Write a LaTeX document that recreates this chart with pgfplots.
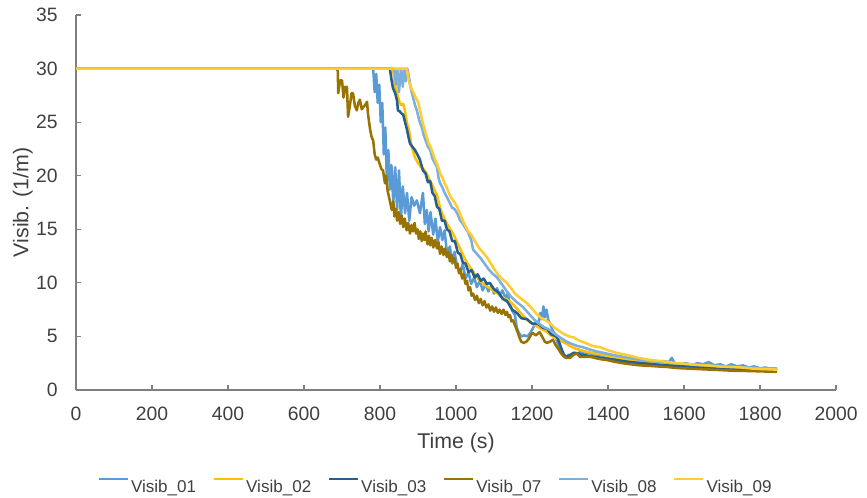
\documentclass[border=0pt]{standalone}
\usepackage{pgfplots}
\usepackage{pgfplotstable}
\pgfplotsset{compat=1.18}
\usepackage{fontspec}
\setmainfont{Liberation Sans}
\definecolor{cA}{HTML}{5B9BD5}
\definecolor{cB}{HTML}{FFC000}
\definecolor{cC}{HTML}{255E91}
\definecolor{cD}{HTML}{997300}
\definecolor{cE}{HTML}{7CAFDD}
\definecolor{cF}{HTML}{FFCD33}
\definecolor{axgray}{HTML}{7F7F7F}
\definecolor{txt}{HTML}{404040}

\pgfplotstableread{
t v
0 30
782 30
786 27.8
790 29.5
794 26.8
798 28.5
802 25.0
806 26.8
810 22.0
814 24.5
818 19.5
822 22.4
826 18.7
830 21.0
835 17.5
840 20.8
845 16.8
850 20.5
855 16.0
860 19.0
866 16.5
871 18.4
877 15.8
883 18.0
890 17.2
897 17.7
905 16.5
913 18.4
918 15.5
923 16.8
928 14.8
933 16.6
940 14.5
946 16.0
952 13.8
958 15.2
964 14.0
970 14.9
976 12.8
984 13.4
990 11.8
996 12.9
1003 11.5
1010 10.9
1018 11.8
1025 10.4
1033 11.0
1040 9.9
1048 10.5
1055 9.6
1063 10.2
1070 9.3
1078 9.9
1085 9.2
1093 9.7
1100 9.0
1108 9.5
1115 8.8
1122 9.3
1130 8.6
1136 9.0
1142 8.0
1148 7.4
1155 7.0
1160 5.8
1166 5.3
1172 5.0
1180 5.1
1188 5.0
1195 5.3
1203 5.8
1210 6.3
1216 6.0
1222 7.2
1226 6.6
1230 7.8
1234 6.8
1238 7.5
1243 6.5
1248 6.2
1254 5.6
1260 5.2
1266 4.5
1272 3.9
1278 3.4
1284 3.1
1290 3.0
1296 3.3
1302 3.2
1310 3.5
1320 3.4
1330 3.6
1340 3.3
1350 3.5
1360 3.2
1370 3.3
1380 3.1
1395 3.0
1410 2.9
1425 3.0
1440 2.8
1455 2.9
1470 2.7
1485 2.8
1500 2.6
1515 2.8
1530 2.5
1545 2.7
1560 2.6
1568 3.0
1575 2.5
1590 2.4
1605 2.5
1620 2.3
1635 2.5
1650 2.4
1665 2.6
1680 2.3
1695 2.4
1710 2.2
1725 2.4
1740 2.2
1755 2.3
1770 2.1
1785 2.2
1800 2.0
1815 2.1
1830 1.9
1845 2.0
}\tabA

\pgfplotstableread{
t v
0 30
834 30
839 28.5
845 27.7
850 27.0
855 26.6
861 26.7
866 26.0
871 24.9
876 24.3
882 23.0
887 22.3
892 21.7
900 21.2
908 20.8
915 20.6
923 20.2
930 19.6
937 19.2
944 18.6
950 18.2
956 17.3
962 16.6
968 16.1
975 15.6
983 15.1
992 14.6
1000 14.0
1008 13.4
1016 12.8
1024 12.2
1032 11.7
1040 11.3
1050 10.8
1060 10.3
1070 10.0
1080 9.7
1090 9.5
1100 9.2
1110 9.0
1120 8.7
1130 8.5
1140 8.3
1150 8.0
1160 7.6
1170 7.2
1180 6.8
1190 6.5
1200 6.2
1210 6.0
1220 5.8
1230 5.6
1240 5.4
1250 5.1
1260 4.9
1270 4.7
1280 4.5
1292 4.3
1305 4.0
1320 3.8
1340 3.6
1360 3.45
1380 3.35
1400 3.2
1430 3.0
1460 2.8
1490 2.65
1520 2.5
1550 2.4
1580 2.3
1610 2.2
1640 2.15
1670 2.1
1700 2.05
1730 2.0
1760 1.95
1790 1.9
1820 1.85
1845 1.8
}\tabB

\pgfplotstableread{
t v
0 30
826 30
830 29.0
834 28.2
840 27.7
845 27.0
847 26.1
852 26.0
857 25.8
861 25.7
866 25.0
871 24.3
875 23.6
879 23.0
885 22.7
892 22.4
898 22.0
905 21.5
913 20.5
920 20.2
926 19.4
932 19.5
938 18.4
944 18.1
950 17.1
956 16.9
963 15.8
970 15.8
976 15.0
983 14.8
990 13.9
997 13.9
1005 12.8
1011 12.7
1018 11.9
1025 11.8
1033 11.0
1041 11.2
1049 10.5
1057 10.8
1065 10.2
1073 10.4
1081 9.9
1089 10.0
1100 9.4
1112 9.1
1123 8.5
1134 8.3
1148 7.5
1160 7.2
1172 6.7
1187 6.6
1200 6.2
1215 6.2
1229 5.8
1240 5.7
1250 5.2
1258 5.1
1266 4.95
1272 4.4
1278 3.8
1284 3.3
1290 3.1
1298 3.2
1306 3.4
1318 3.45
1330 3.3
1345 3.2
1360 3.1
1380 3.0
1400 2.9
1430 2.75
1460 2.6
1490 2.5
1520 2.4
1550 2.3
1580 2.25
1610 2.2
1640 2.15
1670 2.1
1700 2.05
1730 2.0
1760 1.95
1790 1.9
1820 1.85
1845 1.85
}\tabC

\pgfplotstableread{
t v
0 30
684 30
689 29.8
690 27.7
695 28.9
700 28.9
704 27.3
708 28.3
713 28.3
716 25.5
721 26.6
725 27.7
729 27.7
734 26.5
739 26.1
743 26.8
747 27.1
752 26.2
756 26.4
761 26.6
766 26.9
768 25.9
772 24.8
774 24.3
778 23.6
782 23.3
786 22.0
790 21.5
794 21.7
800 21.0
804 20.6
808 20.5
813 19.3
816 20.0
820 18.6
825 17.8
831 16.8
835 17.6
838 16.2
842 16.9
845 15.8
849 16.6
853 15.5
857 16.3
861 15.2
865 16.0
870 14.9
874 15.6
879 14.6
883 15.4
887 14.8
891 15.6
895 14.6
899 15.0
902 14.1
906 14.8
910 13.9
913 14.6
917 14.0
920 14.8
925 13.6
929 14.4
932 13.5
936 14.2
940 13.3
945 14.0
950 13.2
954 13.8
958 12.7
962 13.4
967 12.6
971 13.2
976 12.4
980 12.9
984 12.0
988 12.6
992 11.9
996 12.3
1000 11.4
1004 11.8
1008 10.9
1012 11.3
1016 10.4
1020 10.8
1025 9.9
1029 10.2
1033 9.3
1037 9.6
1041 8.8
1045 9.0
1050 8.4
1055 8.8
1060 8.1
1065 8.5
1070 7.9
1075 8.3
1080 7.7
1085 8.0
1090 7.4
1095 7.8
1100 7.3
1105 7.7
1110 7.2
1115 7.5
1120 7.1
1125 7.5
1130 7.0
1134 7.3
1138 6.8
1142 7.0
1146 6.4
1150 6.5
1158 5.8
1164 5.2
1168 4.8
1172 4.5
1178 4.4
1185 4.5
1192 4.8
1198 5.2
1203 5.3
1210 5.1
1220 5.4
1228 4.9
1234 4.5
1239 4.4
1247 4.5
1255 4.7
1262 4.2
1270 3.8
1276 3.45
1282 3.2
1290 3.0
1300 3.0
1310 3.3
1318 3.4
1326 3.1
1340 3.1
1353 3.1
1370 2.95
1385 2.85
1397 2.8
1415 2.65
1439 2.5
1460 2.4
1484 2.3
1510 2.25
1530 2.2
1555 2.15
1580 2.05
1610 2.0
1640 1.95
1670 1.9
1700 1.85
1730 1.8
1760 1.78
1790 1.75
1820 1.72
1845 1.7
}\tabD

\pgfplotstableread{
t v
0 30
838 30
842 28.5
846 29.8
850 27.8
855 30
860 28.3
864 30
868 28.8
872 30
877 29.0
882 28.0
887 27.3
892 26.6
897 26.1
903 25.2
910 24.5
915 23.8
920 23.3
926 22.7
932 22.4
938 21.6
944 21.2
950 20.8
954 19.8
958 19.3
963 19.0
970 18.4
976 18.0
982 17.6
990 17.0
996 16.9
1003 16.5
1010 15.9
1018 15.5
1025 15.1
1032 14.7
1040 14.0
1045 13.1
1055 12.7
1065 12.3
1075 11.8
1085 11.3
1095 10.9
1108 10.5
1120 9.9
1132 9.3
1145 8.7
1160 8.2
1176 7.75
1190 7.2
1205 6.6
1218 6.2
1230 5.9
1247 5.6
1262 5.2
1278 4.8
1292 4.5
1305 4.3
1320 4.1
1334 4.0
1350 3.8
1370 3.6
1390 3.45
1413 3.27
1440 3.1
1470 2.9
1500 2.75
1530 2.65
1560 2.55
1590 2.45
1620 2.4
1650 2.3
1680 2.25
1710 2.2
1740 2.15
1770 2.1
1800 2.05
1845 2.0
}\tabE

\pgfplotstableread{
t v
0 30
870 30
875 29.0
880 28.3
885 28.0
890 27.6
895 27.2
900 26.9
906 26.0
912 25.0
918 24.2
923 23.6
928 23.0
934 22.6
940 22.0
945 21.5
950 21.1
955 20.6
960 20.1
966 19.7
971 19.2
976 18.9
982 18.3
988 17.9
994 17.6
1003 17.1
1010 16.5
1018 15.8
1025 15.3
1032 14.8
1040 14.5
1048 14.0
1056 13.5
1064 13.1
1072 12.8
1081 12.4
1090 11.9
1100 11.3
1110 10.8
1120 10.4
1134 10.0
1145 9.5
1155 9.0
1165 8.7
1176 8.4
1187 8.1
1200 7.6
1212 7.1
1225 6.7
1236 6.5
1247 6.25
1260 5.8
1272 5.5
1285 5.2
1298 5.0
1310 4.9
1325 4.6
1340 4.4
1360 4.1
1379 4.0
1400 3.7
1425 3.45
1450 3.27
1480 3.0
1511 2.8
1540 2.7
1570 2.55
1600 2.45
1630 2.35
1660 2.3
1690 2.2
1720 2.15
1750 2.1
1780 2.0
1810 1.95
1845 1.9
}\tabF

\begin{document}
\begin{tikzpicture}
\useasboundingbox (0,0) rectangle (650.25bp,373.5bp);
\begin{axis}[
  at={(57bp,81bp)}, anchor=south west,
  scale only axis,
  width=570bp, height=281.25bp,
  xmin=0, xmax=2000, ymin=0, ymax=35,
  xtick={0,200,...,2000}, ytick={0,5,...,35},
  axis lines*=left,
  axis line style={axgray, line width=0.8bp},
  tick align=inside,
  major tick length=4bp,
  tick style={axgray, line width=0.8bp},
  /pgf/number format/assume math mode=true,
  /pgf/number format/1000 sep={},
  ticklabel style={font=\fontsize{14.5bp}{17bp}\selectfont, text=txt, inner sep=0pt},
  xticklabel style={anchor=north, yshift=-12.5bp},
  yticklabel style={anchor=east, xshift=-13.5bp},
  xlabel={Time (s)},
  ylabel={Visib. (1/m)},
  label style={font=\fontsize{16bp}{19bp}\selectfont, text=txt, inner sep=0pt},
  xlabel style={at={(axis description cs:0.5,-0.1547)}, anchor=base},
  ylabel style={at={(axis description cs:-0.0628,0.5)}, anchor=base},
  legend columns=6,
  legend style={draw=none, fill=none, at={(axis description cs:0.472,-0.2727)}, anchor=south,
    font=\fontsize{12.8bp}{15bp}\selectfont, text=txt, inner sep=0pt, outer sep=0pt,
    nodes={inner sep=0pt, text depth=0pt},
    /tikz/every odd column/.append style={column sep=1.5bp},
    /tikz/every even column/.append style={column sep=12.5bp}},
  legend image code/.code={\draw[#1, line width=1.7bp] (0bp,5.5bp) -- (21.75bp,5.5bp);},
  every axis plot/.append style={line width=1.9bp, line join=round},
]
\addplot[cA, no marks] table[x=t, y=v] {\tabA};
\addlegendentry{Visib\_01}
\addplot[cB, no marks] table[x=t, y=v] {\tabB};
\addlegendentry{Visib\_02}
\addplot[cC, no marks] table[x=t, y=v] {\tabC};
\addlegendentry{Visib\_03}
\addplot[cD, no marks] table[x=t, y=v] {\tabD};
\addlegendentry{Visib\_07}
\addplot[cE, no marks] table[x=t, y=v] {\tabE};
\addlegendentry{Visib\_08}
\addplot[cF, no marks] table[x=t, y=v] {\tabF};
\addlegendentry{Visib\_09}
\end{axis}
\end{tikzpicture}
\end{document}
